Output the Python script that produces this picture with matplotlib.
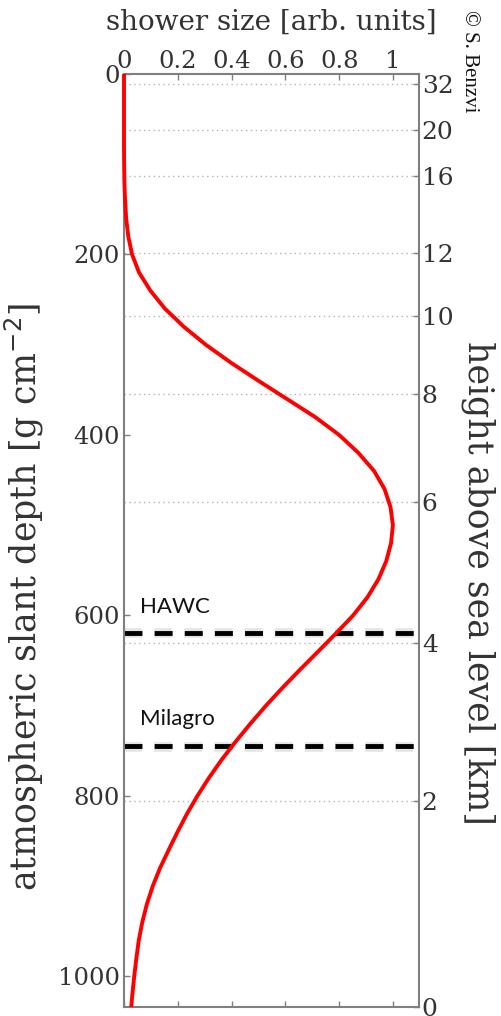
import matplotlib.pyplot as plt

# shower profile: slant depth [g cm^-2] vs. size [arb. units]
depth = [0, 80, 100, 120, 140, 160, 180, 200, 220, 240, 260, 280, 300, 320,
         340, 360, 380, 400, 420, 440, 460, 480, 500, 520, 540, 560, 580, 600,
         620, 640, 660, 680, 700, 720, 740, 760, 780, 800, 820, 840, 860, 880,
         900, 920, 940, 960, 980, 1000, 1020, 1034]
size = [0.0, 0.0, 0.0005, 0.0015, 0.004, 0.008, 0.016, 0.030, 0.056, 0.098,
        0.152, 0.222, 0.304, 0.398, 0.500, 0.605, 0.710, 0.800, 0.872, 0.930,
        0.969, 0.991, 1.000, 0.993, 0.975, 0.946, 0.905, 0.852, 0.788, 0.722,
        0.655, 0.590, 0.528, 0.470, 0.415, 0.363, 0.316, 0.273, 0.234, 0.199,
        0.166, 0.134, 0.107, 0.085, 0.068, 0.055, 0.046, 0.038, 0.031, 0.027]

# right axis: height above sea level and the slant depth it sits at
height_km = [32, 20, 16, 12, 10, 8, 6, 4, 2, 0]
height_depth = [11, 62, 113, 198, 268, 355, 474, 631, 806, 1034]

# detector levels
detectors = ["HAWC", "Milagro"]
detector_depth = [619, 745]
label_depth = [597, 722]

size_ticks = [0, 0.2, 0.4, 0.6, 0.8, 1]
size_ticklabels = ["0", "0.2", "0.4", "0.6", "0.8", "1"]
depth_ticks = [0, 200, 400, 600, 800, 1000]

plt.rcParams["font.family"] = "DejaVu Serif"
tick_color = "#333333"
spine_color = "#7f7f7f"

fig = plt.figure(figsize=(5.02, 10.16), dpi=100)
ax = fig.add_axes([124 / 502, 1 - 1007 / 1016, 295 / 502, 933 / 1016])
ax.set_xlim(0, 1.097)
ax.set_ylim(1034, 0)

# dotted grid at the height ticks
for d in height_depth:
    ax.axhline(d, color="#b5b5b5", lw=1.0, ls=(0, (1, 2.5)), zorder=1)

# detector levels with a soft shadow
for name, d, ld in zip(detectors, detector_depth, label_depth):
    ax.axhline(d + 1, color="black", lw=7, alpha=0.10, zorder=1.5,
               dashes=(1.85, 1.25))
    ax.axhline(d, color="black", lw=3.5, dashes=(3.7, 2.5), zorder=2)
    ax.text(0.06, ld, name, family="Lato", fontsize=16, color="#111111",
            ha="left", va="baseline")

ax.plot(size, depth, color="#ff0000", lw=2.8, zorder=3, clip_on=False,
        solid_capstyle="butt", solid_joinstyle="round")

for sp in ax.spines.values():
    sp.set_color(spine_color)
    sp.set_linewidth(1.5)

ax.xaxis.tick_top()
ax.xaxis.set_label_position("top")
ax.set_xticks(size_ticks)
ax.set_xticklabels(size_ticklabels)
ax.tick_params(axis="x", which="both", top=True, bottom=True, direction="in",
               length=4, width=1, color=spine_color, labelsize=17.5,
               labelcolor=tick_color, pad=1)
ax.set_yticks(depth_ticks)
ax.tick_params(axis="y", direction="in", length=4, width=1, color=spine_color,
               labelsize=17.5, labelcolor=tick_color, pad=3)
ax.set_xlabel("shower size [arb. units]", fontsize=20, color=tick_color,
              labelpad=14)
ax.set_ylabel(r"atmospheric slant depth [g cm$^{-2}$]", fontsize=25,
              color=tick_color, va="center")
ax.yaxis.set_label_coords(-0.336, 0.44)

# height axis on the right
ax2 = ax.twinx()
ax2.set_ylim(1034, 0)
ax2.set_yticks(height_depth)
ax2.set_yticklabels([str(h) for h in height_km])
ax2.tick_params(axis="y", direction="in", length=4, width=1, color=spine_color,
                labelsize=18, labelcolor=tick_color, pad=2)
for sp in ax2.spines.values():
    sp.set_visible(False)
ax2.set_ylabel("height above sea level [km]", fontsize=25, color=tick_color,
               rotation=270, va="center")
ax2.yaxis.set_label_coords(1.2, 0.455)

fig.text(470 / 502, 1 - 10 / 1016, "\u00a9 S. Benzvi", rotation=270,
         family="Liberation Serif", fontsize=15, color="#111111",
         ha="center", va="top")

fig.savefig("out.png", dpi=100)
